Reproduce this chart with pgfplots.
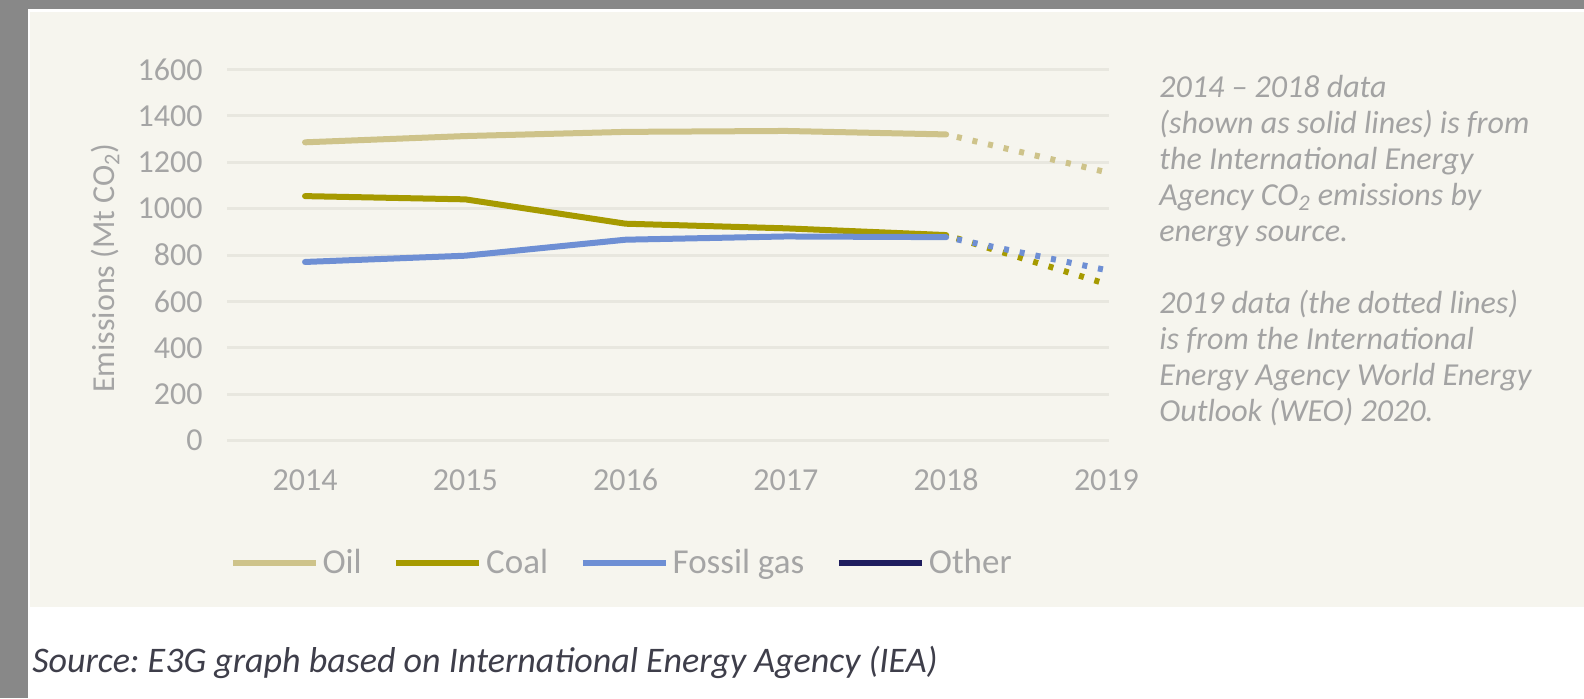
\documentclass[border=0pt]{standalone}
\usepackage{pgfplots}
\pgfplotsset{compat=1.18}
\usepackage{fontspec}
\setmainfont{Carlito}
\frenchspacing
\definecolor{bggray}{HTML}{888888}
\definecolor{panel}{HTML}{F6F5EE}
\definecolor{gridc}{HTML}{E8E7DF}
\definecolor{tickc}{HTML}{A5A5A5}
\definecolor{notec}{HTML}{A3A3A3}
\definecolor{srcc}{HTML}{3E3E4A}
\definecolor{oilc}{HTML}{CEC38A}
\definecolor{coalc}{HTML}{A69A00}
\definecolor{gasc}{HTML}{6E8FD4}
\definecolor{otherc}{HTML}{1F1D5E}
\begin{document}
\begin{tikzpicture}
\fill[bggray] (0pt,0pt) rectangle (792pt,349pt);
\fill[white] (14pt,0pt) rectangle (792pt,344.5pt);
\fill[panel] (15pt,45.5pt) rectangle (792pt,343pt);
\useasboundingbox (0pt,0pt) rectangle (792pt,349pt);
\begin{axis}[
  at={(113.5pt,128.75pt)}, anchor=south west,
  scale only axis, width=441pt, height=185.5pt,
  xmin=2013.513, xmax=2019.016, ymin=0, ymax=1600,
  axis line style={draw=none},
  tick style={draw=none},
  ytick={0,200,...,1600},
  ymajorgrids,
  grid style={gridc, line width=1.5pt},
  xtick={2014,2015,2016,2017,2018,2019},
  xticklabels={2014,2015,2016,2017,2018,2019},
  xticklabel style={anchor=base, yshift=-24.75pt},
  yticklabel style={anchor=east, xshift=-8.67pt},
  tick label style={font=\fontsize{16}{16}\selectfont, text=tickc},
  /pgf/number format/1000 sep={},
  /pgf/number format/assume math mode=true,
  legend columns=4,
  legend style={at={(rel axis cs:0.0034,-0.330)}, anchor=west, draw=none, fill=none, inner sep=0pt, outer sep=0pt,
     font=\fontsize{17.5}{17.5}\selectfont, text=tickc,
     /tikz/every even column/.append style={column sep=14pt}},
  legend image code/.code={\draw[#1, line width=2.75pt, line cap=butt] (0pt,0pt) -- (41.5pt,0pt);},
]
\addplot[oilc, line width=3pt, line cap=round] coordinates {(2014,1286) (2015,1313) (2016,1331) (2017,1335) (2018,1320)};
\addlegendentry{Oil}
\addplot[coalc, line width=3pt, line cap=round] coordinates {(2014,1054) (2015,1040) (2016,935) (2017,915) (2018,886)};
\addlegendentry{Coal}
\addplot[gasc, line width=3pt, line cap=round] coordinates {(2014,770) (2015,797) (2016,866) (2017,880) (2018,877)};
\addlegendentry{Fossil gas}
\addlegendimage{otherc, line width=3pt}
\addlegendentry{Other}
\addplot[oilc, line width=3pt, dash pattern=on 2.5pt off 5.5pt, dash phase=2.5pt, forget plot] coordinates {(2018,1320) (2019,1157)};
\addplot[coalc, line width=3pt, dash pattern=on 2.5pt off 5.5pt, dash phase=2.5pt, forget plot] coordinates {(2018,886) (2019,675)};
\addplot[gasc, line width=3pt, dash pattern=on 2.5pt off 5.5pt, dash phase=2.5pt, forget plot] coordinates {(2018,877) (2019,735)};
\end{axis}
\node[rotate=90, anchor=center, inner sep=0pt, text=tickc, font=\fontsize{16}{16}\selectfont] at (52.5pt,215pt) {Emissions (Mt CO\textsubscript{2})};
\begin{scope}[every node/.style={anchor=base west, inner sep=0pt, text=notec, font=\fontsize{16}{18}\selectfont\itshape}]
\node at (579.5pt,300.5pt) {2014 – 2018 data};
\node at (579.5pt,282.5pt) {(shown as solid lines) is from};
\node at (579.5pt,264.5pt) {the International Energy};
\node at (579.5pt,246.5pt) {Agency CO\textsubscript{2} emissions by};
\node at (579.5pt,228.5pt) {energy source.};
\node at (579.5pt,192.5pt) {2019 data (the dotted lines)};
\node at (579.5pt,174.5pt) {is from the International};
\node at (579.5pt,156.5pt) {Energy Agency World Energy};
\node at (579.5pt,138.5pt) {Outlook (WEO) 2020.};
\end{scope}
\node[anchor=base west, inner sep=0pt, text=srcc, font=\fontsize{18}{18}\selectfont\itshape] at (16pt,13pt) {Source: E3G graph based on International Energy Agency (IEA)};
\end{tikzpicture}
\end{document}
